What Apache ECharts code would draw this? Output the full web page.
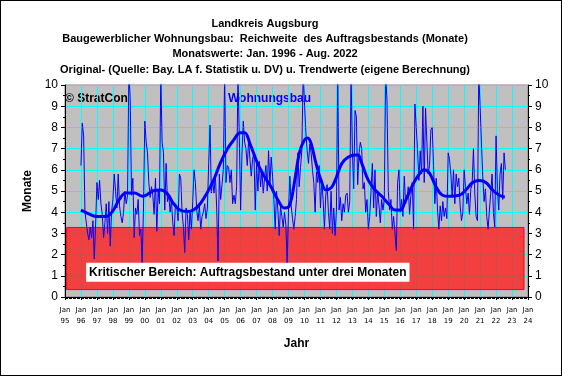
<!DOCTYPE html>
<html><head><meta charset="utf-8">
<script src="https://cdn.jsdelivr.net/npm/echarts@6/dist/echarts.min.js"></script>
<style>
html,body{margin:0;padding:0;background:#fff;}
#c{width:562px;height:376px;box-sizing:border-box;border:1px solid #000;}
#ch{width:560px;height:374px;}
</style></head>
<body><div id="c"><div id="ch"></div></div>
<script>
// Monthly values (Reichweite in Monaten), Jan 1996 - Aug 2022
const v1996 = [6.2, 8.2, 7.6, 4.0, 3.5, 3.0, 2.7, 3.3, 2.8, 3.6, 1.8, 3.4];
const v1997 = [5.4, 4.6, 5.5, 4.4, 3.9, 2.8, 3.5, 4.4, 3.0, 4.5, 2.4, 4.0];
const v1998 = [4.6, 5.8, 5.0, 4.2, 5.8, 4.3, 3.8, 3.5, 4.0, 5.0, 4.4, 4.8];
const v1999 = [10.6, 9.4, 4.8, 5.6, 2.8, 4.2, 3.9, 4.6, 2.9, 3.2, 1.6, 4.2];
const v2000 = [8.3, 7.3, 6.8, 5.4, 4.7, 5.2, 4.8, 3.9, 5.6, 3.1, 5.0, 4.4];
const v2001 = [10.5, 7.3, 6.8, 4.1, 6.3, 4.5, 4.8, 4.0, 4.6, 3.5, 2.9, 4.4];
const v2002 = [4.3, 3.6, 5.8, 5.6, 4.0, 3.3, 2.1, 4.2, 3.9, 2.7, 4.1, 3.2];
const v2003 = [4.5, 6.0, 5.4, 4.1, 3.6, 4.3, 3.2, 3.8, 4.0, 4.4, 3.7, 4.2];
const v2004 = [6.3, 8.1, 4.9, 5.5, 4.9, 5.8, 4.2, 1.7, 5.8, 4.6, 5.3, 6.0];
const v2005 = [10.5, 5.4, 6.2, 6.1, 5.4, 6.0, 4.4, 4.8, 4.4, 5.2, 10.5, 7.6];
const v2006 = [4.1, 6.7, 8.3, 7.3, 7.0, 6.2, 7.4, 6.5, 5.7, 6.5, 6.8, 4.1];
const v2007 = [6.3, 5.0, 6.4, 5.2, 6.0, 4.9, 5.6, 6.2, 5.0, 6.9, 5.3, 6.6];
const v2008 = [5.7, 4.6, 3.2, 5.0, 4.1, 2.9, 4.3, 3.8, 3.3, 4.0, 3.4, 1.6];
const v2009 = [4.1, 5.7, 4.3, 3.7, 3.2, 3.8, 4.6, 6.8, 5.2, 6.1, 6.9, 10.5];
const v2010 = [10.5, 7.8, 6.9, 6.3, 7.2, 6.8, 6.0, 5.4, 4.0, 5.9, 5.4, 6.2];
const v2011 = [4.2, 5.5, 4.6, 3.2, 4.8, 5.3, 4.0, 3.2, 5.0, 3.0, 4.2, 2.9];
const v2012 = [4.1, 10.5, 4.1, 4.7, 3.6, 4.4, 4.0, 4.8, 4.9, 4.0, 4.5, 10.5];
const v2013 = [6.9, 5.1, 8.8, 8.5, 5.3, 6.8, 7.3, 7.0, 5.1, 5.4, 4.0, 4.6];
const v2014 = [3.2, 3.8, 5.0, 6.3, 4.2, 6.0, 3.8, 5.0, 4.3, 3.5, 4.6, 4.1];
const v2015 = [4.6, 10.5, 9.3, 5.0, 4.1, 4.6, 3.2, 3.8, 3.0, 2.2, 5.4, 6.0];
const v2016 = [4.0, 4.6, 3.8, 5.7, 4.4, 4.6, 5.2, 3.9, 4.8, 5.4, 3.2, 9.1];
const v2017 = [8.0, 6.9, 5.5, 6.9, 5.8, 9.0, 5.4, 8.9, 7.3, 5.8, 6.2, 7.9];
const v2018 = [8.0, 6.2, 4.4, 5.6, 4.1, 3.2, 4.3, 3.6, 4.5, 3.8, 4.2, 3.7];
const v2019 = [6.8, 6.5, 5.8, 4.7, 6.0, 4.4, 5.8, 5.2, 5.6, 4.3, 3.6, 4.0];
const v2020 = [6.0, 5.2, 4.4, 4.9, 3.9, 5.1, 5.3, 7.0, 4.9, 3.8, 3.6, 10.5];
const v2021 = [9.0, 7.3, 5.7, 4.5, 5.1, 3.8, 3.2, 4.1, 4.9, 5.8, 4.0, 3.3];
const v2022 = [7.6, 5.1, 4.1, 5.8, 6.3, 4.6, 6.8, 6.0];
const yearlyArrays = [v1996,v1997,v1998,v1999,v2000,v2001,v2002,v2003,v2004,v2005,v2006,v2007,v2008,v2009,v2010,v2011,v2012,v2013,v2014,v2015,v2016,v2017,v2018,v2019,v2020,v2021,v2022];
const firstYear = 1996;

// Trend (eigene Berechnung): [Jahr, Wert]
const trendYears  = [1996.0,1996.42,1996.95,1997.57,1997.99,1998.4,1998.82,1999.35,1999.87,2000.5,2001.0,2001.38,2001.8,2002.2,2002.64,2003.05,2003.47,2003.89,2004.3,2004.72,2005.14,2005.56,2005.98,2006.25,2006.6,2007.06,2007.48,2007.9,2008.32,2008.74,2009.05,2009.37,2009.68,2009.99,2010.2,2010.41,2010.72,2011.04,2011.35,2011.67,2011.92,2012.34,2012.75,2013.17,2013.35,2013.59,2014.0,2014.43,2014.84,2015.26,2015.68,2016.0,2016.3,2016.72,2017.14,2017.5,2017.82,2018.24,2018.65,2019.07,2019.7,2020.11,2020.53,2020.95,2021.36,2021.78,2022.2,2022.55];
const trendValues = [4.1,3.95,3.8,3.8,4.05,4.6,4.9,4.9,4.75,5.0,5.05,4.9,4.4,4.1,4.03,4.1,4.4,4.9,5.5,6.3,6.95,7.4,7.75,7.75,7.2,6.3,5.7,5.2,4.6,4.2,4.3,5.4,6.8,7.4,7.5,7.25,6.3,5.5,5.05,5.15,5.5,6.3,6.6,6.7,6.7,6.3,5.5,5.05,4.75,4.4,4.1,4.1,4.5,5.2,5.75,6.0,5.85,5.2,4.8,4.75,4.8,5.05,5.4,5.5,5.4,5.05,4.8,4.72];

const titleLines = ["Landkreis Augsburg","Baugewerblicher Wohnungsbau:  Reichweite  des Auftragsbestands (Monate)","Monatswerte: Jan. 1996 - Aug. 2022","Original- (Quelle: Bay. LA f. Statistik u. DV) u. Trendwerte (eigene Berechnung)"];
const criticalLow = 0.35, criticalHigh = 3.28;
const criticalText = "Kritischer Bereich: Auftragsbestand unter drei Monaten";

const monthly = [];
yearlyArrays.forEach((arr, yi) => arr.forEach((v, mi) => monthly.push([firstYear + yi + mi/12, v])));
const trend = trendYears.map((y,i)=>[y, trendValues[i]]);

const FONT = '"Liberation Sans", Arial, sans-serif';
const chart = echarts.init(document.getElementById('ch'));
const yAxisBase = {
  type:'value', min:0, max:10, interval:1,
  axisLine:{show:true, lineStyle:{color:'#000'}},
  axisTick:{show:true, length:4, lineStyle:{color:'#000'}},
  minorTick:{show:true, splitNumber:2, length:2, lineStyle:{color:'#000'}},
  axisLabel:{color:'#000', fontSize:12, fontFamily:FONT, margin:7},
};
chart.setOption({
  animation:false,
  backgroundColor:'#fff',
  title:{text:titleLines.join('\n'), left:259, textAlign:'center', top:10,
    textStyle:{fontSize:11, fontWeight:'bold', lineHeight:15.3, fontFamily:FONT, color:'#000'}},
  grid:{left:64, right:33, top:84, bottom:78, show:true, backgroundColor:'#c0c0c0', borderColor:'#808080', borderWidth:1},
  xAxis:{type:'value', min:1995, max:2024, interval:1,
    name:'Jahr', nameLocation:'middle', nameGap:41,
    nameTextStyle:{fontSize:12, fontWeight:'bold', fontFamily:FONT, color:'#000'},
    axisLine:{lineStyle:{color:'#000'}},
    axisTick:{length:3, lineStyle:{color:'#000'}},
    minorTick:{show:true, splitNumber:12, length:2, lineStyle:{color:'#000'}},
    splitLine:{show:true, lineStyle:{color:'#00ffff', width:1}},
    axisLabel:{fontSize:7, lineHeight:11, margin:8, color:'#000', fontFamily:'"DejaVu Sans", sans-serif',
      formatter:v=>'Jan\n'+String(Math.round(v)%100).padStart(2,'0')}},
  yAxis:[
    Object.assign({}, yAxisBase, {position:'left', name:'Monate', nameLocation:'middle', nameGap:29, nameRotate:90,
      nameTextStyle:{fontSize:12, fontWeight:'bold', fontFamily:FONT, color:'#000'},
      splitLine:{show:true, lineStyle:{color:'#00ffff', width:1}}}),
    Object.assign({}, yAxisBase, {position:'right', splitLine:{show:false}})
  ],
  graphic:[
    {type:'text', left:64, top:92, style:{text:'© StratCon', font:'bold 12px '+FONT, fill:'#000'}},
    {type:'text', left:227, top:92, style:{text:'Wohnungsbau', font:'bold 12px '+FONT, fill:'#0000ff'}}
  ],
  series:[
    {type:'line', name:'Original', data:monthly, showSymbol:false, lineStyle:{color:'#0000ff', width:1}, itemStyle:{color:'#0000ff'}, z:2, clip:true},
    {type:'line', name:'Trend', data:trend, smooth:0.4, showSymbol:false, lineStyle:{color:'#0000ff', width:3}, itemStyle:{color:'#0000ff'}, z:3},
    {type:'line', name:'Kritisch', data:[], z:5,
      markArea:{silent:true, itemStyle:{color:'rgba(250,40,40,0.85)', borderColor:'#ff0000', borderWidth:1},
        data:[[{coord:[1995.1, criticalHigh]},{coord:[2023.75, criticalLow]}]]},
      markPoint:{silent:true, symbol:'rect', symbolSize:0,
        data:[{coord:[2006.45, 1.17], value:0}],
        label:{show:true, formatter:criticalText, color:'#000', fontSize:12, fontWeight:'bold', fontFamily:FONT,
          backgroundColor:'#fff', padding:[4,3,3,3], position:'inside'}}}
  ]
});
</script></body></html>
